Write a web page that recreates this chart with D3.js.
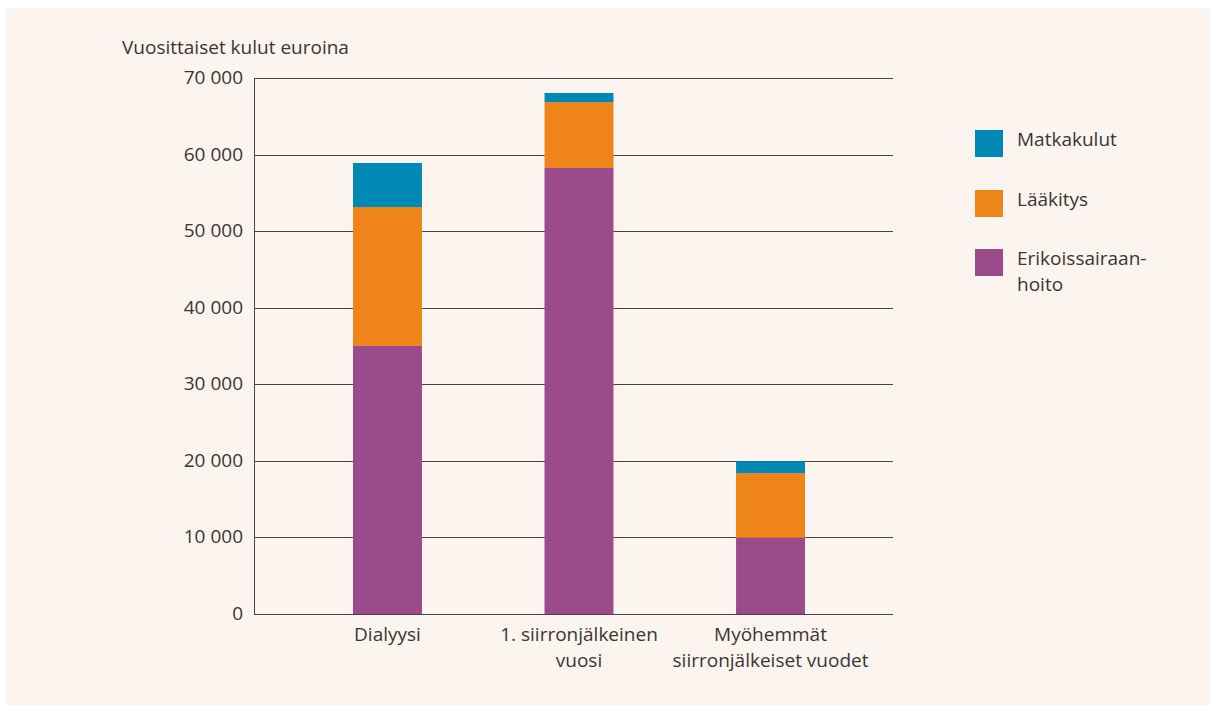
<!DOCTYPE html>
<html>
<head>
<meta charset="utf-8">
<script src="https://cdn.jsdelivr.net/npm/d3@7"></script>
<style>
body { margin: 0; background: #fff; }
svg text { font-family: "Open Sans", "Noto Sans", sans-serif; fill: #3a3633; }
</style>
</head>
<body>
<div id="chart"></div>
<script>
// categories and series (euros per year)
var categories = ["Dialyysi", "1. siirronjälkeinen vuosi", "Myöhemmät siirronjälkeiset vuodet"];
var catLines = [["Dialyysi"], ["1. siirronjälkeinen", "vuosi"], ["Myöhemmät", "siirronjälkeiset vuodet"]];
var erikois = [35000, 58250, 9950];
var laakitys = [18150, 8600, 8450];
var matka = [5750, 1200, 1550];
var seriesNames = ["Erikoissairaanhoito", "Lääkitys", "Matkakulut"];
var yTicks = [0, 10000, 20000, 30000, 40000, 50000, 60000, 70000];

var colors = {"Erikoissairaanhoito": "#9b4b8c", "Lääkitys": "#ef8419", "Matkakulut": "#0089b4"};

var width = 1210, height = 705;
var svg = d3.select("#chart").append("svg")
	.attr("width", width)
	.attr("height", height);

svg.append("rect")
	.attr("x", 6).attr("y", 8)
	.attr("width", 1204).attr("height", 697)
	.style("fill", "#fcf4ee");

var x0 = 254, x1 = 893;
var y = d3.scaleLinear().domain([0, 70000]).range([614, 78]);
var x = d3.scaleBand().domain(categories).range([353, 805]).paddingInner(0.64).paddingOuter(0);

var table = categories.map(function(c, i){
	return {cat: c, "Erikoissairaanhoito": erikois[i], "Lääkitys": laakitys[i], "Matkakulut": matka[i]};
});
var stacked = d3.stack().keys(seriesNames)(table);

// gridlines
svg.append("g").selectAll("line")
	.data(yTicks.slice(1))
	.enter()
	.append("line")
	.attr("x1", x0).attr("x2", x1)
	.attr("y1", function(d){ return Math.round(y(d)) + 0.5; })
	.attr("y2", function(d){ return Math.round(y(d)) + 0.5; })
	.style("stroke", "#4a4541")
	.style("stroke-width", 1);

// bars
svg.append("g").selectAll("g")
	.data(stacked)
	.enter()
	.append("g")
	.style("fill", function(d){ return colors[d.key]; })
	.selectAll("rect")
	.data(function(d){ return d; })
	.enter()
	.append("rect")
	.attr("x", function(d){ return x(d.data.cat); })
	.attr("width", x.bandwidth())
	.attr("y", function(d){ return y(d[1]); })
	.attr("height", function(d){ return y(d[0]) - y(d[1]); });

// axes lines
svg.append("line")
	.attr("x1", x0 + 0.5).attr("x2", x0 + 0.5)
	.attr("y1", 78).attr("y2", 614)
	.style("stroke", "#4a4541");
svg.append("line")
	.attr("x1", x0).attr("x2", x1)
	.attr("y1", 614.5).attr("y2", 614.5)
	.style("stroke", "#4a4541");

// y tick labels
svg.append("g").selectAll("text")
	.data(yTicks)
	.enter()
	.append("text")
	.attr("x", 243)
	.attr("y", function(d){ return y(d) + 6; })
	.style("text-anchor", "end")
	.style("font-size", "19px")
	.text(function(d){ return d3.format(",")(d).replace(/,/g, " "); });

svg.append("text")
	.attr("x", 122).attr("y", 54)
	.style("font-size", "19px")
	.text("Vuosittaiset kulut euroina");

// x labels
categories.forEach(function(c, i){
	var t = svg.append("text")
		.attr("x", x(c) + x.bandwidth() / 2)
		.attr("y", 641)
		.style("text-anchor", "middle")
		.style("font-size", "19px");
	catLines[i].forEach(function(line, j){
		t.append("tspan")
			.attr("x", x(c) + x.bandwidth() / 2)
			.attr("dy", j === 0 ? 0 : 26)
			.text(line);
	});
});

// legend
var legend = [
	{key: "Matkakulut", lines: ["Matkakulut"], y: 130},
	{key: "Lääkitys", lines: ["Lääkitys"], y: 190},
	{key: "Erikoissairaanhoito", lines: ["Erikoissairaan-", "hoito"], y: 249}
];
var lg = svg.append("g").selectAll("g")
	.data(legend)
	.enter()
	.append("g");
lg.append("rect")
	.attr("x", 975).attr("y", function(d){ return d.y; })
	.attr("width", 28).attr("height", 27)
	.style("fill", function(d){ return colors[d.key]; });
lg.append("text")
	.attr("y", function(d){ return d.y + 16; })
	.style("font-size", "19px")
	.each(function(d){
		var t = d3.select(this);
		d.lines.forEach(function(line, j){
			t.append("tspan")
				.attr("x", 1017)
				.attr("dy", j === 0 ? 0 : 26)
				.text(line);
		});
	});
</script>
</body>
</html>
